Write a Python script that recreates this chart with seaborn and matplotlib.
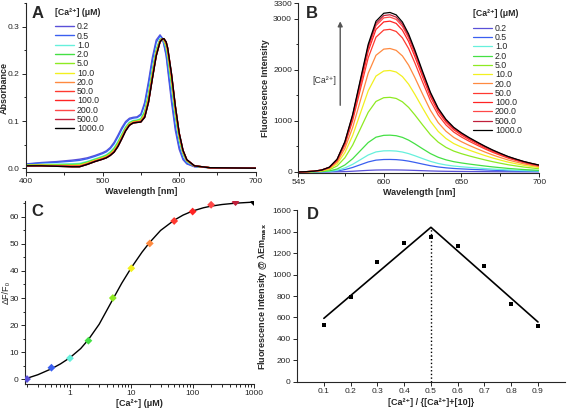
import numpy as np
import pandas as pd
import seaborn as sns
import matplotlib
matplotlib.use("Agg")
import matplotlib.pyplot as plt
from matplotlib.ticker import MultipleLocator, FormatStrFormatter, FixedLocator, NullFormatter, LogLocator

# concentrations of Ca2+ (uM) and their colours
conc_labels = ["0.2", "0.5", "1.0", "2.0", "5.0", "10.0", "20.0", "50.0", "100.0", "200.0", "500.0", "1000.0"]
conc = [0.2, 0.5, 1, 2, 5, 10, 20, 50, 100, 200, 500, 1000]
colors = ["#5a50d8", "#3a5ff0", "#66f0dc", "#44e044", "#8eea22", "#f2f020", "#ff8a40",
          "#ff3a30", "#ff2424", "#ff4848", "#c01f3a", "#000000"]

# panel A: absorbance of free and Ca-bound dye
abs_wl = [400, 420, 440, 460, 470, 480, 490, 500, 505, 510, 515, 520, 525, 530, 535, 540, 545,
          550, 555, 560, 565, 570, 575, 578, 580, 583, 585, 590, 595, 600, 605, 610, 620, 640, 700]
abs_free = [0.009, 0.012, 0.014, 0.017, 0.019, 0.022, 0.027, 0.033, 0.037, 0.044, 0.055, 0.070, 0.086,
            0.099, 0.106, 0.108, 0.109, 0.115, 0.140, 0.185, 0.235, 0.272, 0.283, 0.276, 0.262, 0.238,
            0.210, 0.140, 0.080, 0.040, 0.018, 0.009, 0.003, 0.001, 0.0]
abs_bound = [0.005, 0.005, 0.004, 0.003, 0.003, 0.008, 0.014, 0.019, 0.022, 0.027, 0.034, 0.046, 0.062,
             0.079, 0.091, 0.096, 0.097, 0.098, 0.108, 0.140, 0.190, 0.238, 0.268, 0.274, 0.275, 0.268,
             0.255, 0.200, 0.132, 0.075, 0.038, 0.018, 0.005, 0.001, 0.0]
abs_bound_frac = [0.0, 0.15, 0.55, 0.65, 0.75, 0.82, 0.88, 0.93, 0.96, 0.98, 1.0, 1.0]

# panel B: emission spectra (normalised shape and peak heights)
em_wl = [545, 550, 555, 560, 565, 570, 575, 580, 585, 590, 595, 600, 604, 608, 612, 616, 620, 625,
         630, 635, 640, 645, 650, 655, 660, 665, 670, 675, 680, 685, 690, 695, 700]
em_shape = [0.0, 0.002, 0.005, 0.012, 0.03, 0.08, 0.19, 0.36, 0.58, 0.80, 0.945, 0.995, 1.0, 0.985,
            0.94, 0.865, 0.765, 0.63, 0.50, 0.40, 0.33, 0.28, 0.245, 0.215, 0.188, 0.162, 0.138,
            0.117, 0.097, 0.081, 0.066, 0.054, 0.043]
em_peak = [40, 245, 415, 720, 1460, 1985, 2415, 2790, 2950, 3030, 3075, 3120]

# panel C: titration
dff0 = [0.0, 4.2, 7.7, 14.2, 30.0, 41.0, 50.2, 58.5, 62.0, 64.5, 65.5, 65.5]
fit_x = [0.2, 0.3, 0.5, 0.7, 1, 1.5, 2, 3, 5, 7, 10, 15, 20, 30, 50, 70, 100, 150, 200, 300, 500, 1000]
fit_y = [0.3, 1.6, 3.8, 5.6, 7.9, 11.3, 14.6, 20.3, 29.5, 35.5, 41.2, 47.0, 50.6, 55.0, 58.8, 60.7,
         62.2, 63.4, 64.0, 64.6, 65.1, 65.5]

# panel D: Job plot
job_x = [0.1, 0.2, 0.3, 0.4, 0.5, 0.6, 0.7, 0.8, 0.9]
job_y = [530, 790, 1115, 1292, 1352, 1265, 1078, 730, 518]
job_line_x = [0.1, 0.5, 0.9]
job_line_y = [592, 1440, 558]

sns.set_style("ticks")
plt.rcParams["font.family"] = ["Liberation Sans", "DejaVu Sans"]
plt.rcParams["xtick.labelsize"] = 6
plt.rcParams["ytick.labelsize"] = 6
plt.rcParams["xtick.major.size"] = 3
plt.rcParams["ytick.major.size"] = 3
plt.rcParams["xtick.minor.size"] = 1.8
plt.rcParams["ytick.minor.size"] = 1.8
plt.rcParams["axes.linewidth"] = 0.8
plt.rcParams["xtick.major.pad"] = 1.5
plt.rcParams["ytick.major.pad"] = 1.5

fig = plt.figure(figsize=(5.67, 4.08), dpi=100)
axA = fig.add_axes([0.046, 0.578, 0.405, 0.414])
axB = fig.add_axes([0.526, 0.576, 0.425, 0.416])
axC = fig.add_axes([0.044, 0.059, 0.404, 0.449])
axD = fig.add_axes([0.524, 0.064, 0.472, 0.421])

lab_font = dict(fontsize=6.5, fontweight="bold")
ca = "[Ca\u00b2\u207a]"
leg_kw = dict(frameon=False, fontsize=6.3, title_fontsize=6.3, labelspacing=0.03,
              handlelength=2.2, handletextpad=0.3, borderpad=0.2)

# ---- A
rows = []
for lab, f in zip(conc_labels, abs_bound_frac):
    for w, a0, a1 in zip(abs_wl, abs_free, abs_bound):
        rows.append((lab, w, (1 - f) * a0 + f * a1))
dfA = pd.DataFrame(rows, columns=["conc", "wl", "abs"])
sns.lineplot(data=dfA, x="wl", y="abs", hue="conc", hue_order=conc_labels, palette=colors,
             sort=False, estimator=None, linewidth=1.0, ax=axA)
axA.set_xlim(400, 700)
axA.set_ylim(-0.0085, 0.35)
axA.xaxis.set_major_locator(MultipleLocator(100))
axA.xaxis.set_minor_locator(MultipleLocator(50))
axA.yaxis.set_major_locator(MultipleLocator(0.1))
axA.yaxis.set_minor_locator(MultipleLocator(0.05))
axA.yaxis.set_major_formatter(FormatStrFormatter("%.1f"))
axA.set_xlabel("Wavelength [nm]", labelpad=1, **lab_font)
axA.set_ylabel("Absorbance", **lab_font)
axA.yaxis.set_label_coords(-0.074, 0.5)
h, l = axA.get_legend_handles_labels()
legA = axA.legend(h, l, title=ca + " (\u03bcM)", loc="upper left", bbox_to_anchor=(0.1, 1.01), **leg_kw)
legA.get_title().set_fontweight("bold")
legA._legend_box.align = "left"
legA._legend_box.sep = 4

# ---- B
rows = []
for lab, pk in zip(conc_labels, em_peak):
    for w, s in zip(em_wl, em_shape):
        rows.append((lab, w, pk * s))
dfB = pd.DataFrame(rows, columns=["conc", "wl", "fl"])
sns.lineplot(data=dfB, x="wl", y="fl", hue="conc", hue_order=conc_labels, palette=colors,
             sort=False, estimator=None, linewidth=0.9, ax=axB)
axB.set_xlim(545, 700)
axB.set_ylim(-20, 3300)
axB.xaxis.set_major_locator(FixedLocator([545, 600, 650, 700]))
axB.xaxis.set_minor_locator(FixedLocator([575, 625, 675]))
axB.yaxis.set_major_locator(FixedLocator([0, 1000, 2000, 3000, 3300]))
axB.yaxis.set_minor_locator(MultipleLocator(500))
axB.set_xlabel("Wavelength [nm]", labelpad=1, **lab_font)
axB.set_ylabel("Fluorescence Intensity", labelpad=2, **lab_font)
h, l = axB.get_legend_handles_labels()
legB = axB.legend(h, l, title=ca + " (\u03bcM)", loc="upper left", bbox_to_anchor=(0.70, 1.0), **leg_kw)
legB.get_title().set_fontweight("bold")
legB._legend_box.align = "left"
legB._legend_box.sep = 4
axB.annotate("", xy=(572, 3000), xytext=(572, 1250),
             arrowprops=dict(arrowstyle="-|>", color="#555555", lw=1.0, mutation_scale=7))
axB.text(562, 1790, ca, fontsize=6.3, color="#333333", ha="center", va="center")

# ---- C
dfC = pd.DataFrame({"conc": conc, "dff0": dff0, "lab": conc_labels})
sns.lineplot(x=fit_x, y=fit_y, color="black", linewidth=1.0, sort=False, estimator=None, ax=axC)
sns.scatterplot(data=dfC, x="conc", y="dff0", hue="lab", hue_order=conc_labels, palette=colors,
                marker="D", s=16, linewidth=0, legend=False, ax=axC, zorder=3)
axC.set_xscale("log")
axC.set_xlim(0.185, 1000)
axC.set_ylim(-1.8, 66)
axC.xaxis.set_major_locator(FixedLocator([1, 10, 100, 1000]))
axC.xaxis.set_major_formatter(FormatStrFormatter("%g"))
axC.xaxis.set_minor_locator(LogLocator(base=10, subs=np.arange(2, 10)))
axC.xaxis.set_minor_formatter(NullFormatter())
axC.yaxis.set_major_locator(MultipleLocator(10))
axC.yaxis.set_minor_locator(MultipleLocator(5))
axC.set_xlabel(ca + " (\u03bcM)", labelpad=1, **lab_font)
axC.set_ylabel("\u0394F/F\u2080", fontsize=6.5)
axC.yaxis.set_label_coords(-0.062, 0.5)

# ---- D
sns.lineplot(x=job_line_x, y=job_line_y, color="black", linewidth=1.2, sort=False,
             estimator=None, ax=axD)
axD.plot([0.5, 0.5], [0, job_line_y[1]], color="black", linestyle=":", linewidth=1.0)
sns.scatterplot(x=job_x, y=job_y, color="black", marker="s", s=5, linewidth=0, ax=axD, zorder=3)
axD.set_xlim(0.0, 1.0)
axD.set_ylim(0, 1600)
axD.xaxis.set_major_locator(FixedLocator(job_x))
axD.xaxis.set_major_formatter(FormatStrFormatter("%.1f"))
axD.yaxis.set_major_locator(MultipleLocator(200))
axD.set_xlabel(ca + " / {" + ca + "+[10]}", labelpad=2, **lab_font)
axD.set_ylabel("Fluorescence Intensity @ \u03bbEm$_{\\mathbf{max}}$", labelpad=2, **lab_font)

for ax in (axA, axB, axC, axD):
    sns.despine(ax=ax)
    ax.tick_params(which="both", direction="out", width=0.7)

fig.text(0.055, 0.985, "A", fontsize=12, fontweight="bold", va="top")
fig.text(0.540, 0.985, "B", fontsize=12, fontweight="bold", va="top")
fig.text(0.055, 0.500, "C", fontsize=12, fontweight="bold", va="top")
fig.text(0.541, 0.492, "D", fontsize=12, fontweight="bold", va="top")

fig.savefig("out.png", dpi=100)
